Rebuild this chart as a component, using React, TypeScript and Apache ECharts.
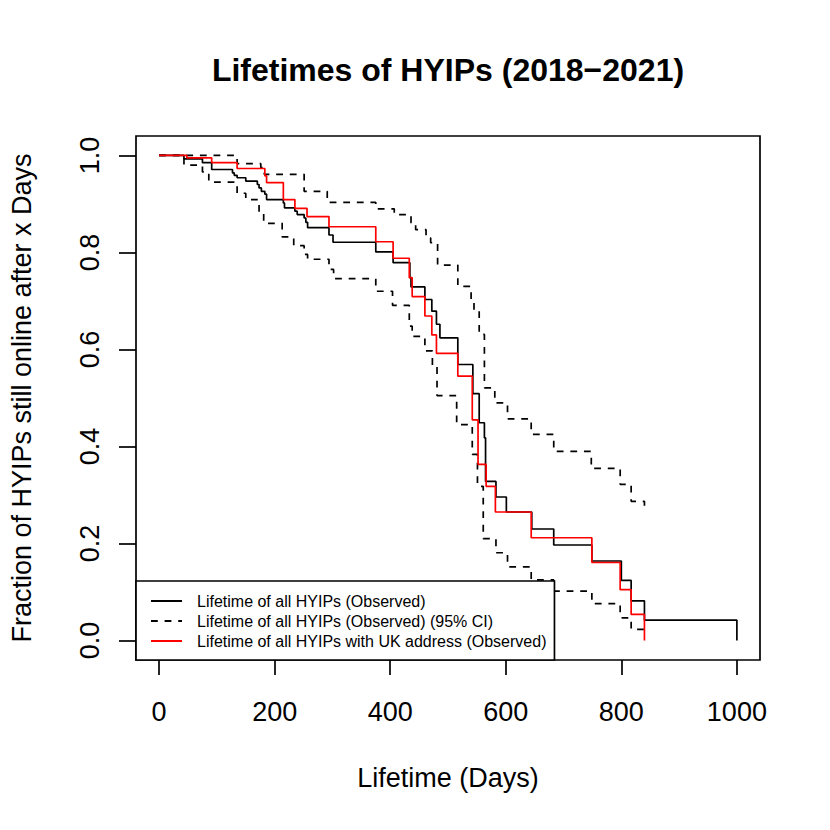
import React, { useEffect, useRef } from "react";
import * as echarts from "echarts";

const titleText = "Lifetimes of HYIPs (2018\u22122021)";
const xAxisTitle = "Lifetime (Days)";
const yAxisTitle = "Fraction of HYIPs still online after x Days";

const xTicks = [0, 200, 400, 600, 800, 1000];
const yTicks = [0, 0.2, 0.4, 0.6, 0.8, 1.0];

const nameAll = "Lifetime of all HYIPs (Observed)";
const nameCI = "Lifetime of all HYIPs (Observed) (95% CI)";
const nameUK = "Lifetime of all HYIPs with UK address (Observed)";

const allDays = [0, 43, 75, 91, 127, 130, 135, 150, 170, 173, 177, 183, 186, 215, 217, 235, 239, 251, 254, 257, 294, 301, 375, 405, 434, 436, 460, 472, 480, 486, 517, 543, 554, 563, 565, 583, 601, 645, 683, 749, 800, 817, 840, 1000];
const allSurv = [1.0, 0.993, 0.985, 0.971, 0.964, 0.959, 0.954, 0.947, 0.94, 0.933, 0.926, 0.92, 0.909, 0.902, 0.892, 0.885, 0.878, 0.871, 0.862, 0.851, 0.836, 0.821, 0.801, 0.779, 0.748, 0.729, 0.703, 0.679, 0.652, 0.624, 0.569, 0.509, 0.449, 0.418, 0.328, 0.296, 0.265, 0.23, 0.197, 0.164, 0.124, 0.082, 0.042, 0.0];

const upperDays = [0, 135, 176, 182, 251, 291, 375, 407, 436, 444, 462, 470, 482, 517, 540, 545, 554, 563, 581, 603, 644, 683, 748, 798, 817, 840];
const upperSurv = [1.0, 0.983, 0.975, 0.961, 0.926, 0.903, 0.89, 0.878, 0.861, 0.847, 0.83, 0.82, 0.774, 0.73, 0.703, 0.68, 0.631, 0.521, 0.49, 0.457, 0.425, 0.39, 0.355, 0.322, 0.287, 0.278];

const lowerDays = [0, 43, 75, 86, 135, 150, 173, 181, 213, 233, 251, 257, 294, 302, 375, 404, 433, 438, 460, 473, 481, 515, 542, 551, 561, 583, 603, 644, 683, 749, 798, 817, 840];
const lowerSurv = [1.0, 0.98, 0.966, 0.945, 0.922, 0.909, 0.882, 0.86, 0.832, 0.814, 0.796, 0.786, 0.765, 0.746, 0.72, 0.691, 0.648, 0.627, 0.597, 0.564, 0.505, 0.445, 0.384, 0.318, 0.21, 0.181, 0.152, 0.125, 0.102, 0.076, 0.047, 0.023, 0.023];

const ukDays = [0, 48, 91, 135, 183, 186, 215, 235, 256, 294, 375, 405, 433, 438, 460, 472, 480, 517, 542, 552, 566, 582, 644, 749, 798, 817, 840];
const ukSurv = [1.0, 0.995, 0.985, 0.973, 0.958, 0.944, 0.909, 0.891, 0.874, 0.853, 0.822, 0.788, 0.748, 0.709, 0.669, 0.63, 0.592, 0.545, 0.455, 0.363, 0.318, 0.265, 0.212, 0.161, 0.105, 0.054, 0.0];

const pairs = (xs: number[], ys: number[]) => xs.map((x, i) => [x, ys[i]]);

const FONT = "Liberation Sans, Arial, Helvetica, sans-serif";
const LW = 1.7;

export default function App() {
  const ref = useRef<HTMLDivElement>(null);
  useEffect(() => {
    if (!ref.current) return;
    const chart = echarts.init(ref.current, null, { renderer: "svg" });
    const lineSeries = (name: string, data: number[][], color: string, dashed: boolean) => ({
      type: "line",
      name,
      data,
      step: "end",
      symbol: "none",
      showSymbol: false,
      lineStyle: { color, width: LW, type: dashed ? [6.8, 6.8] : "solid" },
      itemStyle: { color },
      emphasis: { disabled: true },
      silent: true,
    });
    chart.setOption({
      animation: false,
      backgroundColor: "#ffffff",
      textStyle: { fontFamily: FONT },
      graphic: [
        {
          type: "text",
          x: 448,
          y: 70,
          style: {
            text: titleText,
            font: `bold 32px ${FONT}`,
            fill: "#000",
            textAlign: "center",
            textVerticalAlign: "middle",
          },
        },
      ],
      grid: {
        left: 136,
        top: 136,
        right: 70,
        bottom: 170,
        show: true,
        borderColor: "#000",
        borderWidth: LW,
        backgroundColor: "transparent",
      },
      xAxis: {
        type: "value",
        min: -40,
        max: 1040,
        name: xAxisTitle,
        nameLocation: "middle",
        nameGap: 104,
        nameTextStyle: { fontSize: 27, color: "#000", fontFamily: FONT },
        axisLine: { show: false, onZero: false },
        splitLine: { show: false },
        axisTick: {
          show: true,
          customValues: xTicks,
          length: 15,
          lineStyle: { color: "#000", width: LW },
        },
        axisLabel: {
          customValues: xTicks,
          fontSize: 27,
          color: "#000",
          fontFamily: FONT,
          margin: 38,
          formatter: (v: number) => String(v),
        },
      },
      yAxis: {
        type: "value",
        min: -0.04,
        max: 1.04,
        name: yAxisTitle,
        nameLocation: "middle",
        nameGap: 101,
        nameTextStyle: { fontSize: 27, color: "#000", fontFamily: FONT },
        axisLine: { show: false, onZero: false },
        splitLine: { show: false },
        axisTick: {
          show: true,
          customValues: yTicks,
          length: 17,
          lineStyle: { color: "#000", width: LW },
        },
        axisLabel: {
          customValues: yTicks,
          fontSize: 27,
          color: "#000",
          fontFamily: FONT,
          rotate: 90,
          margin: 33,
          formatter: (v: number) => v.toFixed(1),
        },
      },
      legend: {
        left: 136,
        top: 581,
        orient: "vertical",
        backgroundColor: "#ffffff",
        borderColor: "#000",
        borderWidth: LW,
        borderRadius: 0,
        padding: [12, 8, 11, 14],
        itemWidth: 31,
        itemHeight: 16,
        itemGap: 4,
        selectedMode: false,
        itemStyle: { opacity: 0, borderWidth: 0 },
        data: [nameAll, nameCI, nameUK],
        textStyle: {
          fontSize: 16,
          lineHeight: 16,
          color: "#000",
          fontFamily: FONT,
          padding: [0, 0, 0, 10],
        },
      },
      series: [
        lineSeries(nameAll, pairs(allDays, allSurv), "#000000", false),
        lineSeries(nameCI, pairs(upperDays, upperSurv), "#000000", true),
        lineSeries(nameCI, pairs(lowerDays, lowerSurv), "#000000", true),
        lineSeries(nameUK, pairs(ukDays, ukSurv), "#ff0000", false),
      ],
    });
    return () => chart.dispose();
  }, []);
  return (
    <div
      ref={ref}
      style={{ position: "fixed", left: 0, top: 0, width: 830, height: 830, background: "#fff" }}
    />
  );
}
